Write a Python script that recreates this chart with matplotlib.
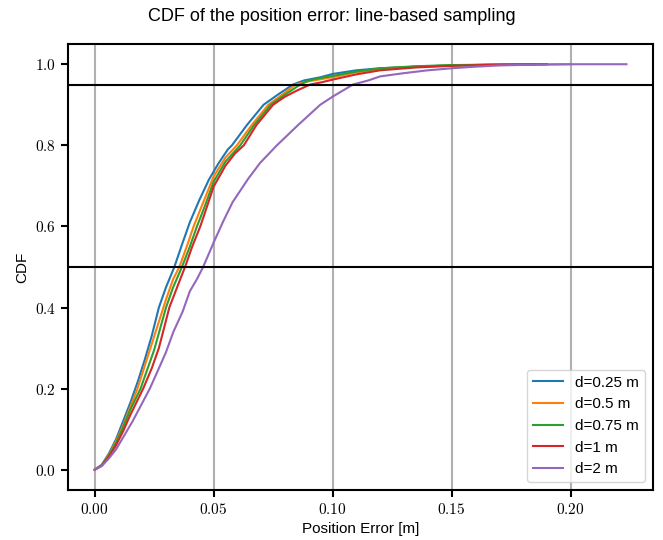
import matplotlib
matplotlib.use('Agg')
import matplotlib.pyplot as plt
import matplotlib.ticker as mticker

plt.rcParams['font.family'] = ['Liberation Sans', 'DejaVu Sans']
plt.rcParams['mathtext.fontset'] = 'cm'

# position error [m] and CDF per spacing
err_025 = [0, 0.003, 0.006, 0.009, 0.012, 0.015, 0.018, 0.021, 0.024, 0.027, 0.030,
           0.0335, 0.037, 0.040, 0.044, 0.048, 0.052, 0.056, 0.0577, 0.064, 0.071,
           0.077, 0.0834, 0.088, 0.095, 0.100, 0.110, 0.120, 0.135, 0.150, 0.165, 0.185]
cdf_025 = [0, 0.012, 0.04, 0.075, 0.12, 0.165, 0.215, 0.27, 0.33, 0.40, 0.45,
           0.50, 0.56, 0.61, 0.665, 0.715, 0.755, 0.79, 0.80, 0.85, 0.90,
           0.925, 0.95, 0.96, 0.968, 0.976, 0.985, 0.990, 0.994, 0.997, 0.999, 1.0]

err_05 = [0, 0.003, 0.006, 0.009, 0.012, 0.015, 0.018, 0.021, 0.024, 0.027, 0.030,
          0.033, 0.0356, 0.039, 0.0416, 0.045, 0.050, 0.055, 0.0598, 0.066, 0.073,
          0.080, 0.0843, 0.090, 0.095, 0.100, 0.110, 0.120, 0.135, 0.150, 0.170, 0.200]
cdf_05 = [0, 0.011, 0.037, 0.07, 0.11, 0.155, 0.20, 0.255, 0.31, 0.365, 0.42,
          0.47, 0.50, 0.555, 0.60, 0.65, 0.723, 0.77, 0.80, 0.85, 0.90,
          0.93, 0.95, 0.958, 0.963, 0.968, 0.98, 0.988, 0.994, 0.997, 0.999, 1.0]

err_075 = [0, 0.003, 0.006, 0.009, 0.012, 0.015, 0.0193, 0.022, 0.025, 0.030, 0.033,
           0.0367, 0.040, 0.043, 0.046, 0.050, 0.055, 0.0612, 0.067, 0.074, 0.080,
           0.0864, 0.090, 0.095, 0.100, 0.110, 0.120, 0.135, 0.150, 0.170, 0.190]
cdf_075 = [0, 0.011, 0.035, 0.066, 0.105, 0.148, 0.20, 0.245, 0.295, 0.40, 0.45,
           0.50, 0.55, 0.60, 0.645, 0.71, 0.76, 0.80, 0.85, 0.90, 0.925,
           0.95, 0.96, 0.966, 0.971, 0.982, 0.99, 0.995, 0.998, 0.999, 1.0]

err_1 = [0, 0.003, 0.006, 0.009, 0.012, 0.015, 0.0204, 0.024, 0.027, 0.0314, 0.035,
         0.038, 0.041, 0.0444, 0.047, 0.050, 0.055, 0.059, 0.0627, 0.068, 0.075,
         0.080, 0.085, 0.0906, 0.095, 0.100, 0.110, 0.120, 0.135, 0.150, 0.170, 0.190]
cdf_1 = [0, 0.010, 0.032, 0.06, 0.095, 0.135, 0.20, 0.25, 0.30, 0.40, 0.455,
         0.50, 0.55, 0.60, 0.645, 0.698, 0.75, 0.78, 0.80, 0.85, 0.90,
         0.92, 0.935, 0.95, 0.955, 0.962, 0.975, 0.985, 0.992, 0.996, 0.999, 1.0]

err_2 = [0, 0.003, 0.006, 0.009, 0.012, 0.016, 0.0232, 0.027, 0.030, 0.0331, 0.037,
         0.040, 0.043, 0.0456, 0.050, 0.054, 0.058, 0.0646, 0.0696, 0.0766, 0.0855,
         0.0948, 0.100, 0.1086, 0.115, 0.120, 0.130, 0.140, 0.150, 0.160, 0.170,
         0.185, 0.200, 0.2235]
cdf_2 = [0, 0.009, 0.028, 0.05, 0.08, 0.12, 0.20, 0.25, 0.29, 0.34, 0.39,
         0.44, 0.47, 0.50, 0.560, 0.612, 0.66, 0.718, 0.757, 0.80, 0.85,
         0.90, 0.92, 0.95, 0.96, 0.97, 0.978, 0.985, 0.99, 0.994, 0.997,
         0.999, 1.0, 1.0]

series = [('d=0.25 m', err_025, cdf_025), ('d=0.5 m', err_05, cdf_05),
          ('d=0.75 m', err_075, cdf_075), ('d=1 m', err_1, cdf_1),
          ('d=2 m', err_2, cdf_2)]
x_ticks = [0.00, 0.05, 0.10, 0.15, 0.20]
y_ticks = [0.0, 0.2, 0.4, 0.6, 0.8, 1.0]
ref_levels = [0.5, 0.95]

fig = plt.figure(figsize=(6.63, 5.4), dpi=100)
ax = fig.add_axes([0.1026, 0.0926, 0.8824, 0.826])

for label, x, y in series:
    ax.plot(x, y, linewidth=1.5, label=label)
for lvl in ref_levels:
    ax.axhline(lvl, color='black', linewidth=1.5)

ax.set_xticks(x_ticks)
ax.set_yticks(y_ticks)
ax.xaxis.set_major_formatter(mticker.FuncFormatter(lambda v, _: f'${v:.2f}$'))
ax.yaxis.set_major_formatter(mticker.FuncFormatter(lambda v, _: f'${v:.1f}$'))
ax.tick_params(labelsize=11, width=1.5, length=5)
ax.grid(axis='x', color='#b0b0b0', linewidth=1.5)
ax.set_axisbelow(True)
for sp in ax.spines.values():
    sp.set_linewidth(1.5)

ax.set_xlabel('Position Error [m]', fontsize=11, labelpad=4)
ax.set_ylabel('CDF', fontsize=11)
fig.suptitle('CDF of the position error: line-based sampling', fontsize=13, y=0.985)
ax.legend(loc='lower right', fontsize=11)

fig.savefig('out.png', dpi=100)
